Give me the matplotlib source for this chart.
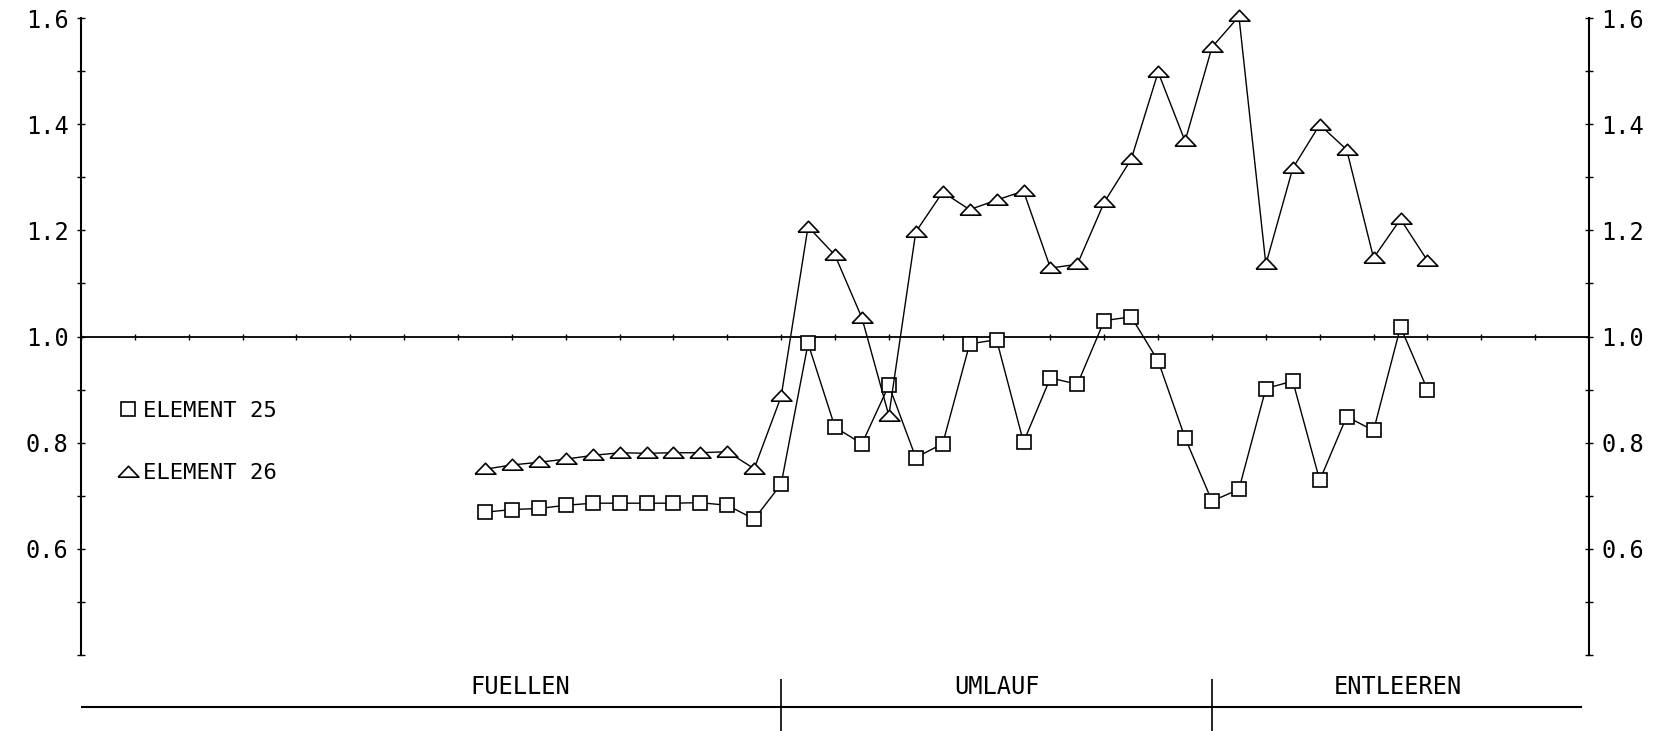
import numpy as np
import matplotlib
matplotlib.use("Agg")
import matplotlib.pyplot as plt
from matplotlib.lines import Line2D
from matplotlib.ticker import MultipleLocator, FuncFormatter

plt.rcParams['font.family'] = ['DejaVu Sans Mono']

# =============================================================================
# DATA
# =============================================================================

# measuring point index along the x axis (axis runs 0..56)
messpunkt = np.arange(15, 51)

element_25 = [0.669, 0.674, 0.676, 0.682, 0.686, 0.686, 0.686, 0.686, 0.687, 0.682,
              0.656, 0.722, 0.987, 0.829, 0.798, 0.908, 0.772, 0.798, 0.986, 0.994,
              0.801, 0.922, 0.910, 1.030, 1.037, 0.954, 0.809, 0.690, 0.712, 0.902,
              0.916, 0.729, 0.849, 0.823, 1.018, 0.900]

element_26 = [0.750, 0.758, 0.763, 0.769, 0.776, 0.781, 0.780, 0.781, 0.781, 0.783,
              0.751, 0.887, 1.207, 1.153, 1.035, 0.851, 1.197, 1.272, 1.239, 1.257,
              1.274, 1.129, 1.136, 1.253, 1.334, 1.498, 1.368, 1.545, 1.603, 1.136,
              1.317, 1.399, 1.352, 1.148, 1.221, 1.143]

series_labels = ['ELEMENT 25', 'ELEMENT 26']

# phases of the run
phase_names = ['FUELLEN', 'UMLAUF', 'ENTLEEREN']
phase_label_x = [16.3, 34.0, 48.9]
phase_bounds = [26, 42]

y_ticklabels = {0.6: '0.6', 0.8: '0.8', 1.0: '1.0', 1.2: '1.2', 1.4: '1.4', 1.6: '1.6'}

# =============================================================================
# FIGURE
# =============================================================================

W, H = 1654, 731
fig = plt.figure(figsize=(W / 100, H / 100), dpi=100)
fig.patch.set_facecolor('white')

# main plot area: x 0..56, y 0.4..1.6
ax = fig.add_axes([81 / W, (H - 655) / H, 1508 / W, 637 / H])
ax.set_xlim(0, 56)
ax.set_ylim(0.4, 1.6)

for side in ['top', 'bottom']:
    ax.spines[side].set_visible(False)
for side in ['left', 'right']:
    ax.spines[side].set_linewidth(1.5)

ax.set_xticks([])
ax.yaxis.set_major_locator(MultipleLocator(0.2))
ax.yaxis.set_minor_locator(MultipleLocator(0.1))
ax.yaxis.set_major_formatter(FuncFormatter(lambda v, p: y_ticklabels.get(round(v, 1), '')))
ax.tick_params(axis='y', which='both', direction='inout', length=6, width=1.0,
               left=True, right=True, labelleft=True, labelright=True)
ax.tick_params(axis='y', which='major', labelsize=17, pad=6)

# reference line at 1.0 with small ticks
ax.axhline(1.0, color='black', lw=1.3)
ax.plot(np.arange(0, 57, 2), np.ones(29), ls='none', marker='|', ms=4,
        mew=1.0, color='black')

# flattened triangle marker
tri = [(-1.0, -0.45), (1.0, -0.45), (0.0, 0.6), (-1.0, -0.45)]

ax.plot(messpunkt, element_25, color='black', lw=1.0, marker='s', ms=10,
        mfc='white', mec='black', mew=1.2, zorder=3, clip_on=False)
ax.plot(messpunkt, element_26, color='black', lw=1.0, marker=tri, ms=15,
        mfc='white', mec='black', mew=1.2, zorder=3, clip_on=False)

handles = [Line2D([], [], ls='none', marker='s', ms=10, mfc='white', mec='black', mew=1.2),
           Line2D([], [], ls='none', marker=tri, ms=15, mfc='white', mec='black', mew=1.2)]
ax.legend(handles, series_labels, loc='center left', bbox_to_anchor=(0.025, 0.334),
          frameon=False, fontsize=16, handlelength=0.8, handletextpad=0.3,
          labelspacing=1.9, borderpad=0, borderaxespad=0)

# phase bar below the plot
axb = fig.add_axes([81 / W, 0, 1508 / W, 76 / H])
axb.set_xlim(0, 56)
axb.set_ylim(0, 1)
axb.axis('off')
axb.axhline(0.316, xmin=-0.003, xmax=0.995, color='black', lw=1.5)
axb.vlines(phase_bounds, 0, 0.684, color='black', lw=1.2)
for name, xpos in zip(phase_names, phase_label_x):
    axb.text(xpos, 0.58, name, ha='center', va='center', fontsize=17)

fig.savefig('out.png', dpi=100, facecolor='white')
